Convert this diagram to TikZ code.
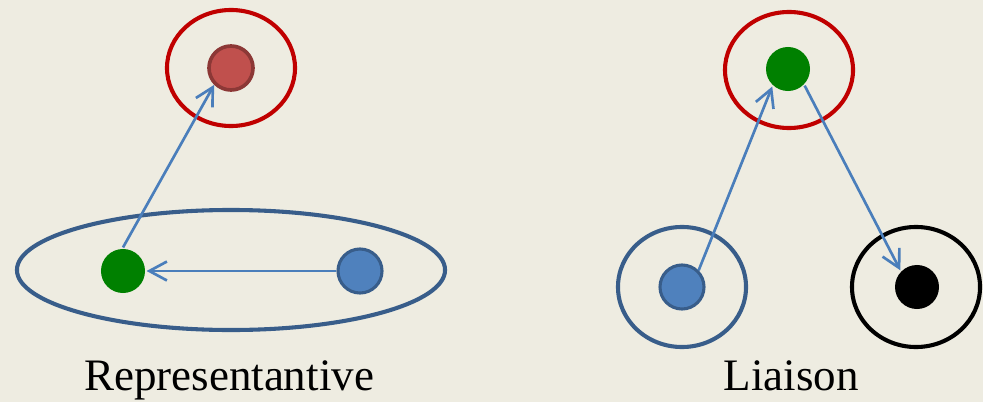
\documentclass[tikz,border=0pt]{standalone}
\usepackage{fontspec}
\setmainfont{Liberation Serif}
\usetikzlibrary{arrows.meta,shapes.geometric}
\definecolor{paper}{HTML}{EEECE1}
\definecolor{ringred}{HTML}{C00000}
\definecolor{dotred}{HTML}{C0504D}
\definecolor{dotredline}{HTML}{8C3836}
\definecolor{dotgreen}{HTML}{008000}
\definecolor{dotblue}{HTML}{4F81BD}
\definecolor{ringblue}{HTML}{385D8A}
\definecolor{linkblue}{HTML}{4A7EBB}

\begin{document}
\begin{tikzpicture}[
    x=0.025cm, y=0.025cm,
    ring/.style={draw, ellipse, line width=2.9pt, inner sep=0pt, minimum width=3.2cm, minimum height=2.9cm},
    dot/.style={circle, inner sep=0pt, minimum size=1.1cm, line width=2.2pt},
    label/.style={font=\fontsize{32}{38}\selectfont, anchor=base},
    link/.style={->, >={Straight Barb[length=12.5pt, width=13.5pt]}, draw=linkblue, line width=1.9pt}]
    \fill[paper] (0,0) rectangle (983,402);
    \useasboundingbox (0,0) rectangle (983,402);
    % Representantive
    \node[ring, draw=ringred] (lring) at (231,334) {};
    \node[dot, fill=dotred, draw=dotredline, line width=2.6pt] (lred) at (231,334) {};
    \node[ring, draw=ringblue, minimum width=10.7cm, minimum height=3.0cm] (lgroup) at (231,132) {};
    \node[dot, fill=dotgreen] (lgreen) at (123,131) {};
    \node[dot, fill=dotblue, draw=ringblue] (lblue) at (360,131) {};
    \node[label] (ltext) at (229,12) {Representantive};
    \draw[link] (lblue) -- (lgreen);
    \draw[link] (lgreen.north) -- (lred.225);
    % Liaison
    \node[ring, draw=ringred] (rring) at (789,332) {};
    \node[dot, fill=dotgreen] (rgreen) at (788,333) {};
    \node[ring, draw=ringblue, minimum height=3.0cm] (bring) at (682,115) {};
    \node[dot, fill=dotblue, draw=ringblue] (rblue) at (682,115) {};
    \node[ring, draw=black, minimum height=3.0cm] (kring) at (916,115) {};
    \node[dot, fill=black] (rblack) at (917,115) {};
    \node[label] (rtext) at (791,12) {Liaison};
    \draw[link] (rblue.45) -- (rgreen.228);
    \draw[link] (rgreen.-45) -- (rblack.135);
\end{tikzpicture}
\end{document}
